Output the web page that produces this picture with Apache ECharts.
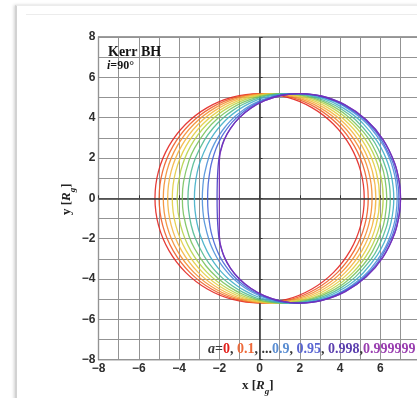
<!DOCTYPE html>
<html>
<head>
<meta charset="utf-8">
<script src="https://cdn.jsdelivr.net/npm/echarts@6/dist/echarts.min.js"></script>
<style>
  html, body { margin: 0; padding: 0; background: #ffffff; overflow: hidden; }
  .card { position: absolute; left: 15px; top: 5px; width: 640px; height: 640px;
          border-left: 2px solid #d2d2d2; border-top: 1px solid #ececec;
          box-shadow: -1px 0 3px rgba(0,0,0,0.18); background: #fff; }
  .rule { position: absolute; left: 26px; top: 14px; width: 600px; height: 1px; background: #ececec; }
  #chart { position: absolute; left: 0; top: 0; width: 417px; height: 398px; }
</style>
</head>
<body>
<div class="card"></div>
<div class="rule"></div>
<div id="chart"></div>
<script>
// Kerr black hole shadow rims seen edge-on (i = 90 deg), in units of R_g.
// Each rim is tabulated for its upper half (beta >= 0), from the prograde
// edge (left, beta = 0) over the top to the retrograde edge (right, beta = 0).

const spinLabels = ['0', '0.1', '0.2', '0.3', '0.4', '0.5', '0.6', '0.7', '0.8', '0.9', '0.95', '0.998', '0.999999'];

const rimA0 = [[-5.196,0],[-5.019,1.345],[-4.5,2.598],[-3.674,3.674],[-2.598,4.5],[-1.345,5.019],[0,5.196],
  [1.345,5.019],[2.598,4.5],[3.674,3.674],[4.5,2.598],[5.019,1.345],[5.196,0]];
const rimA01 = [[-4.99,0],[-4.813,1.345],[-4.294,2.598],[-3.469,3.674],[-2.394,4.5],[-1.141,5.019],[0.2,5.196],
  [1.546,5.019],[2.799,4.5],[3.874,3.674],[4.699,2.598],[5.218,1.345],[5.395,0]];
const rimA02 = [[-4.783,0],[-4.607,1.345],[-4.089,2.598],[-3.265,3.674],[-2.191,4.5],[-0.941,5.019],[0.4,5.196],
  [1.743,5.019],[2.994,4.5],[4.067,3.674],[4.891,2.598],[5.409,1.345],[5.586,0]];
const rimA03 = [[-4.565,0],[-4.389,1.345],[-3.873,2.598],[-3.051,3.674],[-1.981,4.5],[-0.734,5.019],[0.6,5.196],
  [1.942,5.019],[3.189,4.5],[4.26,3.674],[5.081,2.598],[5.597,1.345],[5.774,0]];
const rimA04 = [[-4.337,0],[-4.162,1.345],[-3.648,2.598],[-2.83,3.674],[-1.763,4.5],[-0.522,5.019],[0.8,5.196],
  [2.143,5.019],[3.384,4.5],[4.45,3.674],[5.268,2.598],[5.782,1.345],[5.958,0]];
const rimA05 = [[-4.096,0],[-3.922,1.345],[-3.42,2.598],[-2.61,3.674],[-1.555,4.5],[-0.315,5.019],[1.0,5.196],
  [2.346,5.019],[3.58,4.5],[4.64,3.674],[5.453,2.598],[5.964,1.345],[6.138,0]];
const rimA06 = [[-3.838,0],[-3.778,0.811],[-3.503,1.879],[-3.224,2.502],[-2.657,3.359],[-2.072,3.965],[-1.467,4.419],
  [-0.838,4.759],[-0.185,4.999],[0.494,5.146],[1.2,5.196],[1.934,5.142],[2.697,4.967],[3.489,4.644],[4.311,4.121],
  [5.163,3.281],[5.601,2.645],[6.046,1.662],[6.227,0.965],[6.316,0]];
const rimA07 = [[-3.557,0],[-3.528,0.568],[-3.399,1.324],[-3.182,2.011],[-2.743,2.886],[-2.292,3.498],[-1.827,3.972],
  [-1.343,4.35],[-0.839,4.651],[-0.314,4.885],[0.233,5.055],[0.805,5.16],[1.4,5.196],[2.02,5.157],[2.666,5.031],
  [3.338,4.802],[4.036,4.441],[4.76,3.897],[5.511,3.058],[5.897,2.43],[6.289,1.444],[6.448,0.669],[6.49,0]];
const rimA08 = [[-3.237,0],[-3.207,0.602],[-3.106,1.246],[-2.938,1.858],[-2.6,2.646],[-2.256,3.205],[-1.9,3.648],
  [-1.53,4.015],[-1.143,4.323],[-0.738,4.582],[-0.313,4.796],[0.133,4.966],[0.6,5.091],[1.089,5.169],[1.6,5.196],
  [2.134,5.167],[2.691,5.072],[3.271,4.901],[3.875,4.636],[4.503,4.25],[5.154,3.692],[5.829,2.848],[6.176,2.216],
  [6.387,1.686],[6.529,1.183],[6.636,0.533],[6.663,0]];
const rimA09 = [[-2.845,0],[-2.813,0.658],[-2.737,1.209],[-2.492,2.132],[-2.25,2.7],[-2.003,3.137],[-1.744,3.5],
  [-1.473,3.813],[-1.185,4.09],[-0.88,4.334],[-0.557,4.549],[-0.215,4.735],[0.147,4.893],[0.529,5.02],[0.932,5.115],
  [1.356,5.175],[1.8,5.196],[2.266,5.173],[2.753,5.1],[3.261,4.968],[3.791,4.766],[4.342,4.475],[4.915,4.07],
  [5.51,3.499],[6.127,2.642],[6.444,1.994],[6.636,1.43],[6.766,0.84],[6.832,0]];
const rimA095 = [[-2.582,0],[-2.553,0.703],[-2.451,1.452],[-2.355,1.875],[-2.171,2.445],[-1.985,2.862],[-1.791,3.206],
  [-1.361,3.778],[-0.863,4.248],[-0.291,4.632],[0.359,4.929],[1.089,5.125],[1.9,5.196],[2.794,5.111],[3.77,4.815],
  [4.829,4.207],[5.39,3.72],[5.971,3.023],[6.574,1.877],[6.759,1.286],[6.883,0.595],[6.916,0]];
const rimA0998 = [[-2.111,0],[-2.102,0.731],[-2.078,1.319],[-2.039,1.808],[-1.977,2.212],[-1.774,2.873],[-1.455,3.458],
  [-1.014,3.992],[-0.449,4.461],[0.241,4.839],[1.056,5.098],[1.996,5.196],[3.061,5.074],[4.251,4.628],[5.294,3.892],
  [6.128,2.912],[6.709,1.726],[6.947,0.724],[6.997,0]];
const rimA0999999 = [[-2.0,0],[-2.0,0.6],[-2.0,1.2],[-2.0,1.732],[-1.99,1.965],[-1.938,2.318],[-1.75,2.905],
  [-1.438,3.473],[-1.0,4.0],[-0.438,4.465],[0.25,4.841],[1.063,5.099],[2.0,5.196],[3.063,5.074],[4.25,4.63],
  [5.29,3.898],[6.123,2.926],[6.703,1.755],[6.94,0.797],[7.0,0]];

const rims = [rimA0, rimA01, rimA02, rimA03, rimA04, rimA05, rimA06, rimA07, rimA08, rimA09, rimA095, rimA0998, rimA0999999];

const rimColors = ['#e3211c', '#ee5a24', '#f38b2c', '#f4b33c', '#e2cc3c', '#b6d246', '#76c25a', '#4db88e',
  '#3cadc6', '#4a8ed8', '#4262d6', '#4136c4', '#7b2db8'];

const xTickValues = [-8, -6, -4, -2, 0, 2, 4, 6, 8];
const xTickLabels = ['\u22128', '\u22126', '\u22124', '\u22122', '0', '2', '4', '6', '8'];
const yTickValues = [-8, -6, -4, -2, 0, 2, 4, 6, 8];
const yTickLabels = ['\u22128', '\u22126', '\u22124', '\u22122', '0', '2', '4', '6', '8'];

// The shadow is symmetric about the equatorial plane: the closed rim runs
// over the upper half and back along the mirrored lower half.
function closeRim(upper) {
  const lower = upper.slice(1, -1).reverse().map(function (p) { return [p[0], -p[1]]; });
  return upper.concat(lower);
}

const tickFont = { color: '#2e2e2e', fontFamily: 'Liberation Sans', fontWeight: 'bold', fontSize: 12 };
const gridLine = { lineStyle: { color: '#939393', width: 1 } };

// each rim is one closed, smoothed outline placed through the cartesian axes
const series = rims.map(function (upper, i) {
  const loop = closeRim(upper);
  return {
    type: 'custom',
    name: 'a=' + spinLabels[i],
    coordinateSystem: 'cartesian2d',
    data: loop,
    clip: true,
    silent: true,
    animation: false,
    z: 3 + i,
    renderItem: function (params, api) {
      if (params.dataIndex !== 0) return null;
      const pts = loop.map(function (p) { return api.coord(p); });
      return {
        type: 'polygon',
        shape: { points: pts, smooth: 0.35 },
        style: { fill: 'none', stroke: rimColors[i], lineWidth: 1.3, opacity: 0.88 },
        silent: true
      };
    }
  };
});

// dark zero axes across the plot
series.push({
  type: 'line',
  data: [],
  silent: true,
  animation: false,
  z: 20,
  markLine: {
    silent: true,
    symbol: ['none', 'none'],
    label: { show: false },
    animation: false,
    lineStyle: { color: '#3a3a3a', width: 1.6, type: 'solid' },
    data: [{ xAxis: 0 }, { yAxis: 0 }]
  }
});

const chart = echarts.init(document.getElementById('chart'), null, { renderer: 'canvas' });

const serif = 'Liberation Serif';

chart.setOption({
  backgroundColor: 'transparent',
  animation: false,
  grid: {
    left: 98.5, top: 37, width: 322.2, height: 322.6,
    show: true, borderColor: '#3c3c3c', borderWidth: 1.2, backgroundColor: 'transparent',
    containLabel: false, outerBoundsMode: 'none'
  },
  xAxis: {
    type: 'value', min: -8, max: 8, interval: 2,
    axisLine: { show: false },
    axisTick: { show: true, inside: true, length: 3, lineStyle: { color: '#333', width: 1 } },
    splitLine: gridLine,
    minorTick: { show: false, splitNumber: 2 },
    minorSplitLine: Object.assign({ show: true }, gridLine),
    axisLabel: Object.assign({ margin: 3, formatter: function (v) {
      const k = xTickValues.indexOf(v); return k < 0 ? '' : xTickLabels[k];
    } }, tickFont)
  },
  yAxis: {
    type: 'value', min: -8, max: 8, interval: 2,
    axisLine: { show: false },
    axisTick: { show: true, inside: true, length: 3, lineStyle: { color: '#333', width: 1 } },
    splitLine: gridLine,
    minorTick: { show: false, splitNumber: 2 },
    minorSplitLine: Object.assign({ show: true }, gridLine),
    axisLabel: Object.assign({ margin: 3, formatter: function (v) {
      const k = yTickValues.indexOf(v); return k < 0 ? '' : yTickLabels[k];
    } }, tickFont)
  },
  series: series,
  graphic: [
    { type: 'text', left: 108, top: 45, z: 50, silent: true,
      style: { text: 'Kerr BH', font: 'bold 14px "Liberation Serif"', fill: '#151515' } },
    { type: 'text', left: 107, top: 60, z: 50, silent: true,
      style: { text: '{i|i}{n|=90\u00b0}', fill: '#151515',
        rich: { i: { fontFamily: serif, fontSize: 12, fontWeight: 'bold', fontStyle: 'italic', fill: '#151515' },
                n: { fontFamily: serif, fontSize: 12, fontWeight: 'bold', fill: '#151515' } } } },
    { type: 'text', left: 208, top: 342, z: 50, silent: true,
      style: {
        text: '{k|a}{d|=}{c0|0}{d|, }{c1|0.1}{d|, ...}{c9|0.9}{d|, }{c10|0.95}{d|, }{c11|0.998}{d|,}{c12|0.999999}',
        rich: {
          k: { fontFamily: serif, fontSize: 14, fontWeight: 'bold', fontStyle: 'italic', fill: '#3a3a3a' },
          d: { fontFamily: serif, fontSize: 14, fontWeight: 'bold', fill: '#3a3a3a' },
          c0: { fontFamily: serif, fontSize: 14, fontWeight: 'bold', fill: '#e3211c' },
          c1: { fontFamily: serif, fontSize: 14, fontWeight: 'bold', fill: '#ee6a3a' },
          c9: { fontFamily: serif, fontSize: 14, fontWeight: 'bold', fill: '#5b8ed2' },
          c10: { fontFamily: serif, fontSize: 14, fontWeight: 'bold', fill: '#5a66d2' },
          c11: { fontFamily: serif, fontSize: 14, fontWeight: 'bold', fill: '#5b3fae' },
          c12: { fontFamily: serif, fontSize: 14, fontWeight: 'bold', fill: '#9a3fb0' }
        }
      } },
    { type: 'text', left: 242, top: 379, z: 50, silent: true,
      style: {
        text: '{b|x [}{r|R}{g|g}{b|]}',
        rich: {
          b: { fontFamily: serif, fontSize: 13, fontWeight: 'bold', fill: '#222', lineHeight: 17, verticalAlign: 'top' },
          r: { fontFamily: serif, fontSize: 13, fontWeight: 'bold', fontStyle: 'italic', fill: '#222', lineHeight: 17, verticalAlign: 'top' },
          g: { fontFamily: serif, fontSize: 9, fontWeight: 'bold', fontStyle: 'italic', fill: '#222', lineHeight: 17, verticalAlign: 'bottom' }
        }
      } },
    { type: 'text', x: 60, y: 215, rotation: Math.PI / 2, z: 50, silent: true,
      style: {
        text: '{b|y [}{r|R}{g|g}{b|]}',
        rich: {
          b: { fontFamily: serif, fontSize: 13, fontWeight: 'bold', fill: '#222', lineHeight: 17, verticalAlign: 'top' },
          r: { fontFamily: serif, fontSize: 13, fontWeight: 'bold', fontStyle: 'italic', fill: '#222', lineHeight: 17, verticalAlign: 'top' },
          g: { fontFamily: serif, fontSize: 9, fontWeight: 'bold', fontStyle: 'italic', fill: '#222', lineHeight: 17, verticalAlign: 'bottom' }
        }
      } }
  ]
});
</script>
</body>
</html>
